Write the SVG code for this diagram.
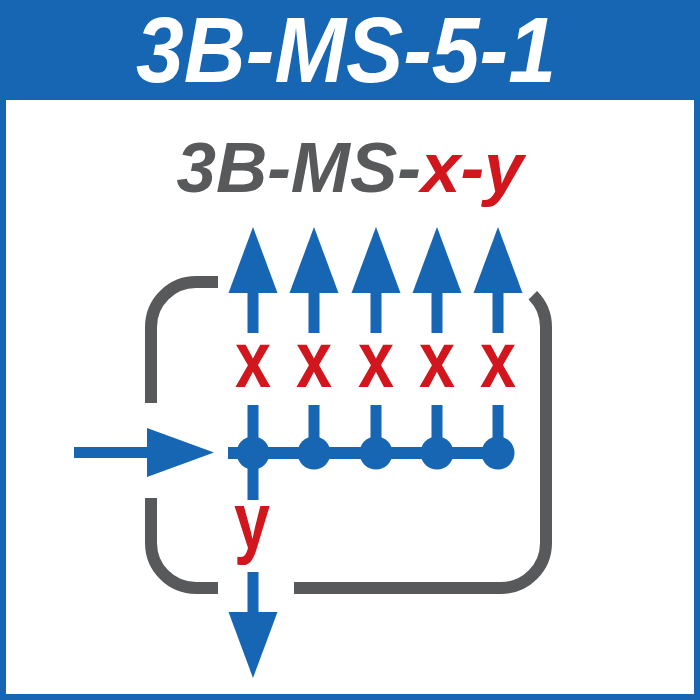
<svg xmlns="http://www.w3.org/2000/svg" width="700" height="700" viewBox="0 0 700 700">
  <style>
    .blue { fill: #1766b3; }
    .frame { fill: none; stroke: #58595b; stroke-width: 12; }
    .lbl { font-family: "Liberation Sans", Arial, sans-serif; font-weight: bold; fill: #d2161e; font-size: 79px; text-anchor: middle; }
    .title { font-family: "Liberation Sans", Arial, sans-serif; font-weight: bold; font-style: italic; }
  </style>
  <defs>
    <g id="up">
      <rect x="-5.5" y="290" width="11" height="43" class="blue"/>
      <polygon points="-24.5,293 24.5,293 0,227" class="blue"/>
      <rect x="-5.5" y="405" width="11" height="48" class="blue"/>
      <circle cx="0" cy="453" r="16.5" class="blue"/>
    </g>
  </defs>
  <rect x="0" y="0" width="700" height="700" class="blue"/>
  <rect x="6" y="100" width="688" height="594" fill="#ffffff"/>
  <text class="title" x="346" y="82" font-size="92" fill="#ffffff" text-anchor="middle" textLength="420" lengthAdjust="spacingAndGlyphs">3B-MS-5-1</text>
  <text class="title" x="350" y="192" font-size="71" fill="#58595b" text-anchor="middle">3B-MS-<tspan fill="#d2161e">x-y</tspan></text>

  <g id="frame">
    <path class="frame" d="M218,282 H196 A45,45 0 0 0 151,327 V403"/>
    <path class="frame" d="M151,498 V543 A45,45 0 0 0 196,588 H218"/>
    <path class="frame" d="M294,588 H501 A45,45 0 0 0 546,543 V327 A45,45 0 0 0 532.8,295.2"/>
  </g>

  <g id="connectors">
    <rect x="74" y="447" width="76" height="11" class="blue"/>
    <polygon points="147,428 147,477 214,452.5" class="blue"/>
    <rect x="228" y="447" width="270" height="12" class="blue"/>
    <rect x="247.5" y="453" width="11" height="47" class="blue"/>
    <rect x="247.5" y="572" width="11" height="43" class="blue"/>
    <polygon points="228.5,612 277.5,612 253,678" class="blue"/>
  </g>

  <g id="n1"><use href="#up" x="253"/></g>
  <g id="n2"><use href="#up" x="314"/></g>
  <g id="n3"><use href="#up" x="376"/></g>
  <g id="n4"><use href="#up" x="437"/></g>
  <g id="n5"><use href="#up" x="498"/></g>

  <g id="labels">
    <text class="lbl" transform="translate(253,387) scale(0.82,1)">x</text>
    <text class="lbl" transform="translate(314,387) scale(0.82,1)">x</text>
    <text class="lbl" transform="translate(376,387) scale(0.82,1)">x</text>
    <text class="lbl" transform="translate(437,387) scale(0.82,1)">x</text>
    <text class="lbl" transform="translate(498,387) scale(0.82,1)">x</text>
    <text class="lbl" transform="translate(252,548) scale(0.82,1)">y</text>
  </g>
</svg>
